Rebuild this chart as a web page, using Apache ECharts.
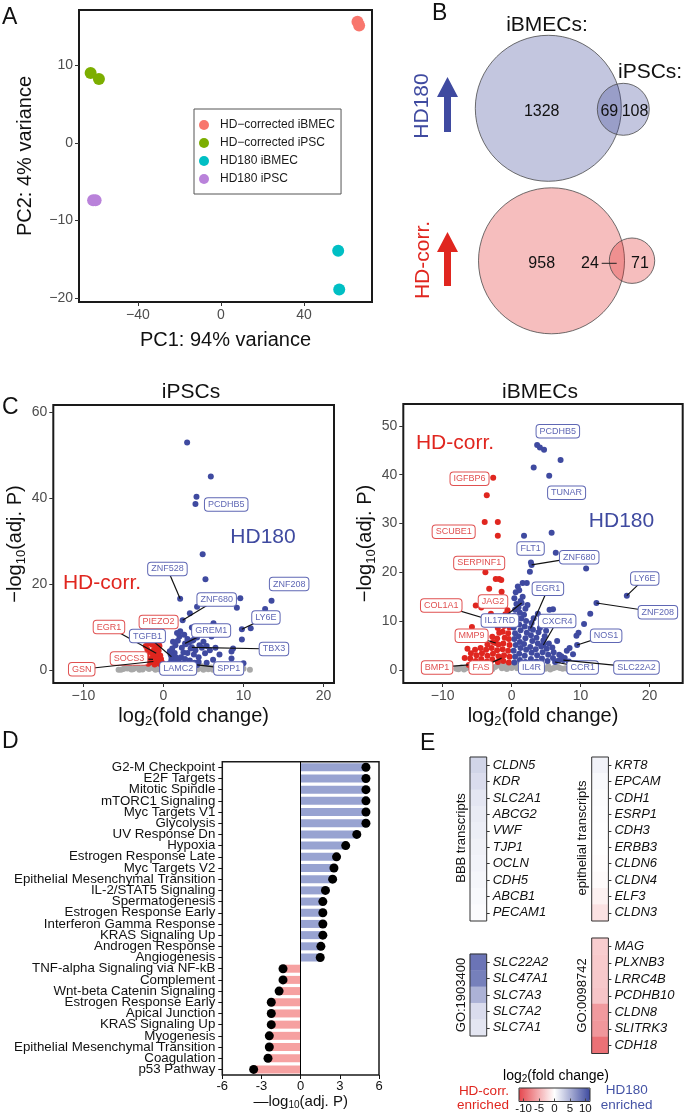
<!DOCTYPE html>
<html><head><meta charset="utf-8">
<script src="https://cdn.jsdelivr.net/npm/echarts@6/dist/echarts.min.js"></script>
<style>html,body{margin:0;padding:0;background:#fff}#c{width:685px;height:1116px}</style>
</head><body><div id="c"></div>
<script>
// ================= DATA =================
// Panel A : PCA
const pcaGroups = ['HD\u2212corrected iBMEC','HD\u2212corrected iPSC','HD180 iBMEC','HD180 iPSC'];
const pcaHDcorrBMEC = [[65.8,15.6],[66.6,15.1]];
const pcaHDcorrIPSC = [[-62.8,9.0],[-58.8,8.2]];
const pcaHD180BMEC  = [[56.5,-13.9],[57.0,-18.9]];
const pcaHD180IPSC  = [[-61.6,-7.4],[-60.4,-7.4]];
const pcaXTicks = [-40,0,40];
const pcaYTicks = [-20,-10,0,10];

// Panel B : Venn counts [iBMEC only, shared, iPSC only]
const vennHD180  = [1328, 69, 108];
const vennHDcorr = [958, 24, 71];

// Panel C : volcano, iPSCs  [log2FC, -log10 adj P]
const ipscNS = [[-5.6,0.1],[-5.0,0.25],[-4.5,0.35],[-4.0,0.15],[-3.6,0.45],[-3.2,0.6],[-2.8,0.3],[-2.4,0.85],[-2.0,0.5],[-1.6,0.95],[-1.2,0.4],[-0.8,0.75],[-0.4,1.05],[0.0,0.3],[0.4,0.8],[0.8,0.5],[1.2,1.1],[1.6,0.6],[2.0,0.3],[2.4,0.9],[2.8,0.5],[3.2,1.0],[3.6,0.4],[4.0,0.7],[4.4,0.3],[4.8,0.9],[5.2,0.5],[5.6,0.2],[6.0,0.6],[6.5,0.3],[7.0,0.75],[7.5,0.4],[8.2,0.2],[9.0,0.5],[10.0,0.3],[10.8,0.1],[-3.0,0.05],[-1.0,0.1],[1.0,0.05],[3.0,0.1],[5.0,0.1],[-2.2,1.2],[0.2,1.3],[-4.8,0.5],[6.8,0.1],[-0.6,0.2],[1.8,0.15],[3.8,0.95],[-3.4,0.9],
  [-5.3,0.05],[-4.2,0.6],[-3.8,0.2],[-2.6,0.15],[-1.8,0.25],[-1.4,0.6],[-0.2,0.5],[0.6,0.2],[1.4,0.35],[2.2,0.6],[2.6,0.2],[3.4,0.7],[4.2,0.15],[4.6,0.55],[5.4,0.8],[5.8,0.4],[6.2,0.1],[7.2,0.2],[7.8,0.1],[8.6,0.35],[9.5,0.15]];
const ipscDown = [[-0.5,1.5],[-0.7,2.2],[-1.0,2.9],[-1.3,3.5],[-1.6,4.2],[-2.0,4.8],[-2.2,5.6],[-1.8,6.2],[-1.4,5.9],[-1.0,5.3],[-0.6,4.5],[-0.4,3.4],[-0.8,6.0],[-1.2,4.6],[-0.9,3.9],[-1.6,2.6],[-2.1,3.5],[-0.3,2.6],[-1.4,1.8],[-1.1,1.3],[-2.4,2.4],[-0.5,5.6],[-1.9,1.5],[-0.2,1.8],[-1.25,2.0],[-1.3,2.5],[-0.6,6.3]];
const ipscUp = [[2.96,52.9],[5.92,45.0],[4.13,40.3],[4.0,38.6],[4.9,26.9],[5.25,21.1],[2.09,16.6],[9.6,16.7],[13.5,16.1],[9.17,14.5],[12.7,14.2],[4.2,14.7],[3.3,13.2],[2.4,11.6],[6.25,10.9],[9.8,9.5],[10.9,9.7],[9.8,7.1],[8.7,5.0],[8.5,4.3],[8.5,2.7],[10.0,1.6],[4.4,1.9],[5.4,1.7],[3.55,9.9],[3.75,7.0],[2.7,6.2],[3.55,5.3],[1.0,3.1],[4.2,1.2],
  [0.8,1.6],[1.0,2.4],[1.2,3.2],[1.4,4.0],[1.1,5.0],[1.5,5.8],[1.8,6.8],[2.0,7.8],[1.7,8.6],[2.1,9.0],[1.9,2.0],[2.2,3.0],[2.5,4.1],[2.3,5.2],[2.8,6.0],[3.0,7.2],[3.2,6.4],[3.4,5.0],[3.0,4.0],[2.7,2.6],[3.3,2.2],[3.8,3.6],[4.0,4.6],[3.6,6.8],[4.2,7.6],[4.5,5.8],[4.8,5.2],[5.0,6.6],[4.4,3.0],[5.2,3.9],[1.3,1.9],[0.9,3.6],[1.6,2.9],[2.6,8.2],[5.4,5.6],[5.8,4.6],[6.0,7.8],[4.7,9.2],[3.9,1.7],[6.5,5.2],[7.0,3.6],[6.2,2.4],[1.2,6.6],[0.8,4.4],[2.4,1.6]];
// labelled genes: [name, log2FC, -log10P, direction]
const ipscGenes = [['PCDHB5',4.0,38.6,'up'],['ZNF528',2.09,16.6,'up'],['ZNF208',13.5,16.1,'up'],['ZNF680',2.4,11.6,'up'],['LY6E',9.8,9.5,'up'],['EGR1',-0.9,3.9,'down'],['PIEZO2',-0.6,6.3,'down'],['TGFB1',1.0,3.1,'up'],['GREM1',2.7,6.2,'up'],['TBX3',3.55,5.3,'up'],['SOCS3',-1.3,2.5,'down'],['GSN',-1.25,2.0,'down'],['LAMC2',1.6,2.9,'up'],['SPP1',4.2,1.2,'up']];

// Panel C : volcano, iBMECs
const bmecNS = [[-8.0,0.2],[-7.3,0.5],[-6.6,0.3],[-5.9,0.8],[-5.2,0.4],[-4.5,0.9],[-3.8,0.5],[-3.1,1.0],[-2.4,0.6],[-1.7,1.2],[-1.0,0.7],[-0.3,1.3],[0.4,0.8],[1.1,1.2],[1.8,0.6],[2.5,1.0],[3.2,0.5],[3.9,0.9],[4.6,0.4],[5.3,0.8],[6.0,0.3],[6.7,0.6],[7.4,0.2],[8.2,0.1],[-6.9,0.05],[-4.9,0.1],[-2.8,0.1],[-0.7,0.15],[1.4,0.1],[3.5,0.1],[5.6,0.05],[-3.5,1.4],[0.0,0.4],[2.2,0.2],[-1.4,0.3],[4.3,1.3],
  [-7.7,0.1],[-6.2,0.6],[-5.6,0.15],[-4.8,0.6],[-4.2,0.2],[-3.4,0.7],[-2.0,0.9],[-1.2,1.0],[-0.5,0.5],[0.8,0.3],[1.6,1.4],[2.9,0.3],[3.6,0.6],[4.9,0.2],[6.3,0.5],[7.0,0.4],[7.8,0.3],[8.5,0.2]];
const bmecDown = [[-2.67,39.4],[-3.6,35.8],[-3.9,30.3],[-2.0,30.3],[-2.0,27.5],[-3.8,20.0],[-2.3,18.6],[-1.8,18.6],[-1.5,18.4],[-3.25,16.6],[-1.45,16.0],[-5.2,13.2],[-5.75,8.8],[-6.4,4.3],[-6.8,2.4],[-4.4,12.8],[-3.0,11.5],[-6.2,1.0],[-1.45,2.4],[-2.3,5.5],[-1.4,9.5],
  [-0.4,1.5],[-0.3,2.7],[-0.5,3.9],[-0.3,5.1],[-0.4,6.3],[-0.5,7.5],[-0.3,8.7],[-0.5,9.9],[-0.4,11.0],[-0.6,12.2],
  [-1.2,1.8],[-1.1,3.0],[-1.3,4.2],[-1.2,5.4],[-1.0,6.6],[-1.3,7.8],[-1.1,9.0],[-1.2,10.2],[-0.9,11.4],
  [-2.0,1.6],[-1.9,2.8],[-2.1,4.0],[-1.9,5.2],[-2.1,6.4],[-1.8,7.6],[-2.0,8.6],
  [-2.8,2.1],[-2.7,3.3],[-2.9,4.5],[-2.7,5.7],[-2.8,6.8],
  [-3.6,1.7],[-3.5,2.9],[-3.7,4.1],[-3.5,5.2],
  [-4.4,2.2],[-4.3,3.4],[-4.5,4.5],
  [-5.2,1.8],[-5.1,3.0],[-5.3,4.1],
  [-6.0,2.3],[-5.9,3.4]];
const bmecUp = [[3.7,46.1],[4.1,45.6],[4.7,45.1],[7.1,43.0],[3.2,41.5],[5.45,39.8],[1.8,27.5],[5.8,28.1],[6.4,24.0],[2.8,22.0],[2.9,21.5],[2.65,20.1],[10.8,20.8],[16.7,15.2],[12.3,13.7],[11.4,11.5],[10.5,9.4],[9.4,7.0],[9.7,7.6],[8.4,4.5],[8.0,3.9],[6.6,5.9],[6.0,12.4],[1.6,17.8],[2.2,17.8],[1.6,15.0],[2.75,8.5],[4.6,5.1],[9.5,5.1],[6.3,1.6],[7.5,2.0],[1.45,13.7],[2.5,1.0],[8.9,3.2],[7.2,2.8],
  [0.4,1.5],[0.5,2.7],[0.3,3.9],[0.6,5.1],[0.4,6.3],[0.5,7.5],[0.3,8.7],[0.6,9.9],[0.4,11.1],[0.5,12.3],[0.7,13.5],[0.4,14.7],[0.6,15.9],[0.9,17.1],
  [1.2,2.0],[1.1,3.3],[1.3,4.5],[1.2,5.7],[1.0,6.9],[1.3,8.1],[1.1,9.3],[1.4,10.5],[1.2,11.7],[1.0,12.8],[1.3,14.1],[1.1,16.3],
  [2.0,1.6],[1.9,2.9],[2.1,4.1],[1.8,5.3],[2.0,6.5],[2.2,7.6],[1.9,8.9],[2.1,10.0],[1.8,11.3],[2.0,12.5],[2.3,13.3],
  [2.8,2.2],[2.9,3.5],[2.7,4.7],[3.0,5.9],[2.8,7.1],[3.1,8.2],[2.9,9.6],[3.2,10.6],
  [3.6,1.7],[3.7,3.0],[3.5,4.2],[3.8,5.4],[3.6,6.6],[3.9,7.7],[4.1,8.6],
  [4.4,2.3],[4.5,3.6],[4.3,4.8],[4.6,6.0],[4.8,6.9],
  [5.2,1.8],[5.3,3.1],[5.1,4.3],[5.4,5.4],
  [6.0,2.4],[6.1,3.6],[5.9,4.6],[6.8,1.9],[6.9,3.1],[7.7,2.4],[8.3,1.7],
  [5.0,8.0],[4.4,9.8],[5.5,12.3],[3.8,11.5],[4.9,10.8]];
const bmecGenes = [['PCDHB5',3.7,46.1,'up'],['TUNAR',5.45,39.8,'up'],['IGFBP6',-2.67,39.4,'down'],['SCUBE1',-3.9,30.3,'down'],['SERPINF1',-3.8,20.0,'down'],['FLT1',1.8,27.5,'up'],['ZNF680',2.9,21.5,'up'],['LY6E',16.7,15.2,'up'],['EGR1',2.75,8.5,'up'],['JAG2',-1.45,16.0,'down'],['COL1A1',-1.4,9.5,'down'],['IL17RD',1.45,13.7,'up'],['CXCR4',4.6,5.1,'up'],['ZNF208',12.3,13.7,'up'],['MMP9',-2.3,5.5,'down'],['NOS1',9.5,5.1,'up'],['BMP1',-6.2,1.0,'down'],['FAS',-1.45,2.4,'down'],['IL4R',2.5,1.0,'up'],['CCR1',6.3,1.6,'up'],['SLC22A2',7.5,2.0,'up']];
const ipscXTicks = [-10,0,10,20], ipscYTicks = [0,20,40,60];
const bmecXTicks = [-10,0,10,20], bmecYTicks = [0,10,20,30,40,50];

// Panel D : hallmark enrichment
const hallmarkNames = ['G2-M Checkpoint','E2F Targets','Mitotic Spindle','mTORC1 Signaling','Myc Targets V1','Glycolysis','UV Response Dn','Hypoxia','Estrogen Response Late','Myc Targets V2','Epithelial Mesenchymal Transition','IL-2/STAT5 Signaling','Spermatogenesis','Estrogen Response Early','Interferon Gamma Response','KRAS Signaling Up','Androgen Response','Angiogenesis','TNF-alpha Signaling via NF-kB','Complement','Wnt-beta Catenin Signaling','Estrogen Response Early','Apical Junction','KRAS Signaling Up','Myogenesis','Epithelial Mesenchymal Transition','Coagulation','p53 Pathway'];
const hallmarkValues = [5.0,5.0,5.0,5.0,5.0,5.0,4.3,3.45,2.75,2.55,2.45,1.9,1.7,1.7,1.7,1.7,1.55,1.5,-1.35,-1.35,-1.65,-2.25,-2.25,-2.25,-2.4,-2.4,-2.5,-3.6];

// Panel E : heatmaps of log2 fold change
const bbbGenes = ['CLDN5','KDR','SLC2A1','ABCG2','VWF','TJP1','OCLN','CDH5','ABCB1','PECAM1'];
const bbbFC = [2.7,2.2,1.6,1.3,1.1,0.9,0.75,0.6,0.4,0.25];
const epiGenes = ['KRT8','EPCAM','CDH1','ESRP1','CDH3','ERBB3','CLDN6','CLDN4','ELF3','CLDN3'];
const epiFC = [0.75,0.4,0.2,0.1,0.05,0,-0.1,-0.3,-0.9,-1.9];
const go1903400Genes = ['SLC22A2','SLC47A1','SLC7A3','SLC7A2','SLC7A1'];
const go1903400FC = [8.8,8.1,4.9,2.2,1.6];
const go0098742Genes = ['MAG','PLXNB3','LRRC4B','PCDHB10','CLDN8','SLITRK3','CDH18'];
const go0098742FC = [-3.1,-3.3,-3.4,-3.6,-6.3,-6.5,-8.9];
const colorbarTicks = [-10,-5,0,5,10];

// ================= LAYOUT / STYLE =================
const FF = "'Liberation Sans', Arial, Helvetica, sans-serif";
const BLUE = '#3f4aa0', RED = '#e0261f', GRAY = '#a8a8a8';
const LBLUE = '#5f67b4', LRED = '#e05050';
const minus = v => v < 0 ? '\u2212' + Math.abs(v) : String(v);

// label box centres [x, y, drawSegment]
const ipscLabelPos = {PCDHB5:[7.84,38.5,0],ZNF528:[0.5,23.5,1],ZNF208:[15.7,20.0,0],ZNF680:[6.65,16.4,1],LY6E:[12.8,12.2,1],EGR1:[-6.8,10.0,1],PIEZO2:[-0.6,11.2,0],TGFB1:[-2.0,7.9,1],GREM1:[5.96,9.2,1],TBX3:[13.8,4.9,1],SOCS3:[-4.3,2.7,1],GSN:[-10.2,0.2,1],LAMC2:[1.84,0.35,0],SPP1:[8.15,0.35,1]};
const bmecLabelPos = {PCDHB5:[6.7,48.9,0],TUNAR:[7.97,36.3,0],IGFBP6:[-6.1,39.2,0],SCUBE1:[-8.4,28.3,0],SERPINF1:[-4.7,21.9,0],FLT1:[2.75,24.9,0],ZNF680:[9.8,23.1,1],LY6E:[19.3,18.75,1],EGR1:[5.26,16.6,1],JAG2:[-2.7,14.0,0],COL1A1:[-10.2,13.2,1],IL17RD:[-1.7,10.1,1],CXCR4:[6.6,10.0,1],ZNF208:[21.2,11.8,1],MMP9:[-5.8,7.0,1],NOS1:[13.7,7.0,1],BMP1:[-10.8,0.5,1],FAS:[-4.45,0.5,1],IL4R:[2.87,0.5,0],CCR1:[10.3,0.5,1],SLC22A2:[18.1,0.5,1]};

// Venn layout (pixel units of hidden grid)
const vennR = 73;
const vennTopBig = [548.3,108.3], vennTopSmall = [623.3,109.3];
const vennBotBig = [551.5,260.8], vennBotSmall = [632,260.7];
const vennCountPos = [[541.7,111.7],[609.3,111.7],[635,111.7],[541.7,263.3],[590,263.3],[640,263.3]];

// ================= BUILD =================
const chart = echarts.init(document.getElementById('c'), null, {renderer:'canvas'});

function frameGrid(l,t,w,h,bw,extra){ return Object.assign({left:l,top:t,width:w,height:h,show:true,borderColor:'#1a1a1a',borderWidth:bw,backgroundColor:'transparent',outerBoundsMode:'none',containLabel:false}, extra||{}); }
const grids = [
  frameGrid(79,10,293,292,2),            // 0 A
  {left:400,top:0,width:285,height:320,show:false,outerBoundsMode:'none'}, // 1 B
  frameGrid(53.3,405,280.7,278,2),       // 2 C left
  frameGrid(403.3,404,279.4,279,2),      // 3 C right
  frameGrid(222.3,761.7,156.7,313.3,1.5),// 4 D
  frameGrid(470,757,16.7,164,1,{z:5,borderColor:'#333'}),   // 5 BBB
  frameGrid(591.7,757,16.7,164,1,{z:5,borderColor:'#333'}), // 6 epithelial
  frameGrid(470,954,16.7,82,1,{z:5,borderColor:'#333'}),    // 7 GO:1903400
  frameGrid(591.7,938,16.7,115.5,1,{z:5,borderColor:'#333'}),// 8 GO:0098742
  frameGrid(519,1088,71,13.5,1,{z:6,borderColor:'#333'})    // 9 colorbar
];

const noLine = {show:false,onZero:false};
const tickLbl = (vals, fmt, extra) => Object.assign({customValues:vals, fontSize:14, color:'#4d4d4d', fontFamily:FF, margin:6, formatter:fmt||minus}, extra||{});
const tickTk = (vals) => ({show:true, customValues:vals, length:4, lineStyle:{color:'#333', width:1}});
const subRich = (big, small, lh) => ({a:{fontSize:big, fontFamily:FF, color:'#111', lineHeight:lh}, s:{fontSize:small, fontFamily:FF, color:'#111', lineHeight:small, verticalAlign:'bottom'}});

const xAxes = [
  {gridIndex:0,type:'value',min:-68.4,max:72.8,axisLine:noLine,splitLine:{show:false},axisTick:tickTk(pcaXTicks),axisLabel:tickLbl(pcaXTicks),
   name:'PC1: 94% variance',nameLocation:'middle',nameGap:28,nameTextStyle:{fontSize:20,color:'#111',fontFamily:FF}},
  {gridIndex:1,type:'value',min:400,max:685,show:false},
  {gridIndex:2,type:'value',min:-13.75,max:21.3,axisLine:noLine,splitLine:{show:false},axisTick:tickTk(ipscXTicks),axisLabel:tickLbl(ipscXTicks),
   name:'{a|log}{s|2}{a|(fold change)}',nameLocation:'middle',nameGap:21,nameTextStyle:{rich:subRich(20,13,24)}},
  {gridIndex:3,type:'value',min:-15.7,max:24.8,axisLine:noLine,splitLine:{show:false},axisTick:tickTk(bmecXTicks),axisLabel:tickLbl(bmecXTicks),
   name:'{a|log}{s|2}{a|(fold change)}',nameLocation:'middle',nameGap:21,nameTextStyle:{rich:subRich(20,13,24)}},
  {gridIndex:4,type:'value',min:-6,max:6,interval:3,axisLine:noLine,splitLine:{show:false},
   axisTick:{show:true,length:4,lineStyle:{color:'#111'}},axisLabel:{fontSize:13,color:'#111',fontFamily:FF,margin:5},
   name:'{a|\u2014log}{s|10}{a|(adj. P)}',nameLocation:'middle',nameGap:17,nameTextStyle:{rich:subRich(15,10,18)}},
  {gridIndex:5,type:'category',data:['fc'],show:false},
  {gridIndex:6,type:'category',data:['fc'],show:false},
  {gridIndex:7,type:'category',data:['fc'],show:false},
  {gridIndex:8,type:'category',data:['fc'],show:false},
  {gridIndex:9,type:'value',min:-11.5,max:11.5,z:7,axisLine:noLine,splitLine:{show:false},
   axisTick:{show:true,inside:true,length:3,customValues:colorbarTicks,lineStyle:{color:'#444'}},
   axisLabel:{customValues:colorbarTicks,fontSize:11.5,color:'#111',fontFamily:FF,margin:1}}
];
const heatY = (g, genes) => ({gridIndex:g,type:'category',data:genes,inverse:true,position:'right',axisLine:noLine,splitLine:{show:false},
   axisTick:{show:true,length:3,alignWithLabel:true,lineStyle:{color:'#333'}},
   axisLabel:{interval:0,fontStyle:'italic',fontSize:13,color:'#111',fontFamily:FF,margin:6}});
const yAxes = [
  {gridIndex:0,type:'value',min:-20.5,max:17.1,axisLine:noLine,splitLine:{show:false},axisTick:tickTk(pcaYTicks),axisLabel:tickLbl(pcaYTicks),
   name:'PC2: 4% variance',nameLocation:'middle',nameGap:44,nameTextStyle:{fontSize:20,color:'#111',fontFamily:FF}},
  {gridIndex:1,type:'value',min:0,max:320,inverse:true,show:false},
  {gridIndex:2,type:'value',min:-3,max:61.6,axisLine:noLine,splitLine:{show:false},axisTick:tickTk(ipscYTicks),axisLabel:tickLbl(ipscYTicks),
   name:'{a|\u2212log}{s|10}{a|(adj. P)}',nameLocation:'middle',nameGap:18,nameTextStyle:{rich:subRich(20,13,24)}},
  {gridIndex:3,type:'value',min:-2.7,max:54.5,axisLine:noLine,splitLine:{show:false},axisTick:tickTk(bmecYTicks),axisLabel:tickLbl(bmecYTicks),
   name:'{a|\u2212log}{s|10}{a|(adj. P)}',nameLocation:'middle',nameGap:22,nameTextStyle:{rich:subRich(20,13,24)}},
  {gridIndex:4,type:'category',data:hallmarkNames,inverse:true,axisLine:noLine,splitLine:{show:false},
   axisTick:{show:true,length:4,alignWithLabel:true,lineStyle:{color:'#111'}},
   axisLabel:{interval:0,fontSize:13.3,color:'#111',fontFamily:FF,margin:7}},
  heatY(5,bbbGenes), heatY(6,epiGenes), heatY(7,go1903400Genes), heatY(8,go0098742Genes),
  {gridIndex:9,type:'category',data:['cb'],show:false}
];

const series = [];
// A
const pcaColors = ['#F8766D','#7CAE00','#00BFC4','#B982DA'];
[pcaHDcorrBMEC,pcaHDcorrIPSC,pcaHD180BMEC,pcaHD180IPSC].forEach((d,i)=>{
  series.push({type:'scatter',name:pcaGroups[i],xAxisIndex:0,yAxisIndex:0,data:d,symbolSize:12,itemStyle:{color:pcaColors[i],opacity:1},silent:true});
});
// B : Venn circles (small circle area proportional to its count)
const rTop = vennR*Math.sqrt((vennHD180[1]+vennHD180[2])/(vennHD180[0]+vennHD180[1]));
const rBot = vennR*Math.sqrt((vennHDcorr[1]+vennHDcorr[2])/(vennHDcorr[0]+vennHDcorr[1]));
const vBlue = 'rgba(55,65,150,0.30)', vRed = 'rgba(225,30,30,0.29)';
series.push({type:'scatter',xAxisIndex:1,yAxisIndex:1,silent:true,z:3,
  data:[
    {value:vennTopBig,symbolSize:2*vennR,itemStyle:{color:vBlue}},
    {value:vennTopSmall,symbolSize:2*rTop,itemStyle:{color:vBlue}},
    {value:vennBotBig,symbolSize:2*vennR,itemStyle:{color:vRed}},
    {value:vennBotSmall,symbolSize:2*rBot,itemStyle:{color:vRed}}
  ],
  itemStyle:{borderColor:'#4a4a4a',borderWidth:0.8,opacity:1}});
const vennCounts = vennHD180.concat(vennHDcorr);
series.push({type:'custom',xAxisIndex:1,yAxisIndex:1,z:5,silent:true,clip:false,data:vennCountPos,
  renderItem:(params,api)=>{
    const p = api.coord([api.value(0),api.value(1)]);
    const ch = [{type:'text',x:p[0],y:p[1],style:{text:String(vennCounts[params.dataIndex]),align:'center',verticalAlign:'middle',fontSize:16,fill:'#111',fontFamily:FF}}];
    if (params.dataIndex===4){ const a=api.coord([601.7,263.3]), b=api.coord([616.7,263.3]);
      ch.push({type:'line',shape:{x1:a[0],y1:a[1],x2:b[0],y2:b[1]},style:{stroke:'#222',lineWidth:1}}); }
    return {type:'group',children:ch};
  }});
// C
function volcano(ax, ns, down, up, genes, pos){
  series.push({type:'scatter',xAxisIndex:ax,yAxisIndex:ax,data:ns,symbolSize:6,itemStyle:{color:GRAY,opacity:1},silent:true,z:2});
  series.push({type:'scatter',xAxisIndex:ax,yAxisIndex:ax,data:down,symbolSize:6,itemStyle:{color:RED,opacity:1},silent:true,z:3});
  series.push({type:'scatter',xAxisIndex:ax,yAxisIndex:ax,data:up,symbolSize:6,itemStyle:{color:BLUE,opacity:1},silent:true,z:3});
  series.push({type:'custom',xAxisIndex:ax,yAxisIndex:ax,z:10,silent:true,clip:false,
    data:genes.map(g=>[g[1],g[2]]),
    renderItem:(params,api)=>{
      const g = genes[params.dataIndex], L = pos[g[0]];
      const p = api.coord([api.value(0),api.value(1)]), q = api.coord([L[0],L[1]]);
      const col = g[3]==='up' ? LBLUE : LRED;
      const ch = [];
      if (L[2]) ch.push({type:'line',shape:{x1:p[0],y1:p[1],x2:q[0],y2:q[1]},style:{stroke:'#111',lineWidth:1.2}});
      ch.push({type:'text',x:q[0],y:q[1],style:{text:g[0],align:'center',verticalAlign:'middle',fill:col,fontSize:9,fontFamily:FF,
        backgroundColor:'#fff',borderColor:col,borderWidth:1,borderRadius:3,padding:[2,3,1.5,3]}});
      return {type:'group',children:ch};
    }});
}
volcano(2, ipscNS, ipscDown, ipscUp, ipscGenes, ipscLabelPos);
volcano(3, bmecNS, bmecDown, bmecUp, bmecGenes, bmecLabelPos);
// D
series.push({type:'bar',xAxisIndex:4,yAxisIndex:4,data:hallmarkValues,barWidth:8,silent:true,z:2,
  itemStyle:{color:(p)=> p.value>=0 ? '#98a3d1' : '#f6a1a1'},
  markLine:{silent:true,symbol:'none',label:{show:false},lineStyle:{color:'#000',width:1,type:'solid'},data:[{xAxis:0}],animation:false}});
series.push({type:'scatter',xAxisIndex:4,yAxisIndex:4,data:hallmarkValues.map((v,i)=>[v,i]),symbolSize:9,itemStyle:{color:'#000',opacity:1},silent:true,z:4});
// E
const heatStart = series.length;
[[5,bbbFC],[6,epiFC],[7,go1903400FC],[8,go0098742FC]].forEach(([g,fc])=>{
  series.push({type:'heatmap',xAxisIndex:g,yAxisIndex:g,data:fc.map((v,i)=>[0,i,v]),silent:true,itemStyle:{borderWidth:0}});
});

const graphic = [];
const txt = (x,y,text,o) => graphic.push({type:'text',x,y,silent:true,rotation:(o&&o.rot)||0,
  style:Object.assign({text,fontFamily:FF,fontSize:21,fill:'#111',align:'center',verticalAlign:'middle'}, (o&&o.style)||{})});
// panel letters
[['A',2,6],['B',432,2],['C',2,396],['D',2,730],['E',420,732]].forEach(([t,x,y])=>txt(x,y,t,{style:{fontSize:23,align:'left',verticalAlign:'top'}}));
// B texts
txt(547,25,'iBMECs:');
txt(618,72,'iPSCs:',{style:{align:'left'}});
txt(422.5,106,'HD180',{rot:Math.PI/2,style:{fill:BLUE}});
txt(423.5,260,'HD-corr.',{rot:Math.PI/2,style:{fill:RED}});
graphic.push({type:'polygon',silent:true,shape:{points:[[437,97],[447.5,77],[458,97],[451,97],[451,132],[444,132],[444,97]]},style:{fill:BLUE}});
graphic.push({type:'polygon',silent:true,shape:{points:[[437,252],[447.5,232],[458,252],[451,252],[451,286],[444,286],[444,252]]},style:{fill:RED}});
// C titles & annotations
txt(191,392,'iPSCs'); txt(540,392,'iBMECs');
txt(263,537,'HD180',{style:{fill:BLUE}}); txt(102,583.5,'HD-corr.',{style:{fill:RED}});
txt(455,443.5,'HD-corr.',{style:{fill:RED}}); txt(621.5,521.5,'HD180',{style:{fill:BLUE}});
// E group labels
txt(461,838,'BBB transcripts',{rot:Math.PI/2,style:{fontSize:13}});
txt(582,838,'epithelial transcripts',{rot:Math.PI/2,style:{fontSize:13}});
txt(461,995,'GO:1903400',{rot:Math.PI/2,style:{fontSize:13}});
txt(582,995.5,'GO:0098742',{rot:Math.PI/2,style:{fontSize:13}});
// colorbar texts
graphic.push({type:'text',x:556,y:1076,silent:true,style:{text:'{a|log}{s|2}{a|(fold change)}',rich:subRich(14,10,17),align:'center',verticalAlign:'middle'}});
txt(484,1091,'HD-corr.',{style:{fontSize:13.5,fill:RED}});
txt(483,1105,'enriched',{style:{fontSize:13.5,fill:RED}});
txt(626.7,1090,'HD180',{style:{fontSize:13.5,fill:'#4453a5'}});
txt(626.7,1105,'enriched',{style:{fontSize:13.5,fill:'#4453a5'}});

const option = {
  animation:false,
  backgroundColor:'#fff',
  textStyle:{fontFamily:FF},
  grid:grids, xAxis:xAxes, yAxis:yAxes, series,
  legend:{data:pcaGroups,orient:'vertical',left:194,top:109,padding:[10,6,9,5],itemGap:6,itemWidth:22,itemHeight:10,icon:'circle',
    selectedMode:false,borderColor:'#555',borderWidth:1,backgroundColor:'#fff',textStyle:{fontSize:12,color:'#1a1a1a',fontFamily:FF}},
  visualMap:{type:'continuous',min:-11.5,max:11.5,seriesIndex:[heatStart,heatStart+1,heatStart+2,heatStart+3],orient:'horizontal',
    left:519,top:1088,itemWidth:13.5,itemHeight:71,calculable:false,padding:0,text:null,showLabel:false,hoverLink:false,
    inRange:{color:['#e5474e','#ffffff','#3d4a9f']}},
  graphic
};
chart.setOption(option);
</script></body></html>
